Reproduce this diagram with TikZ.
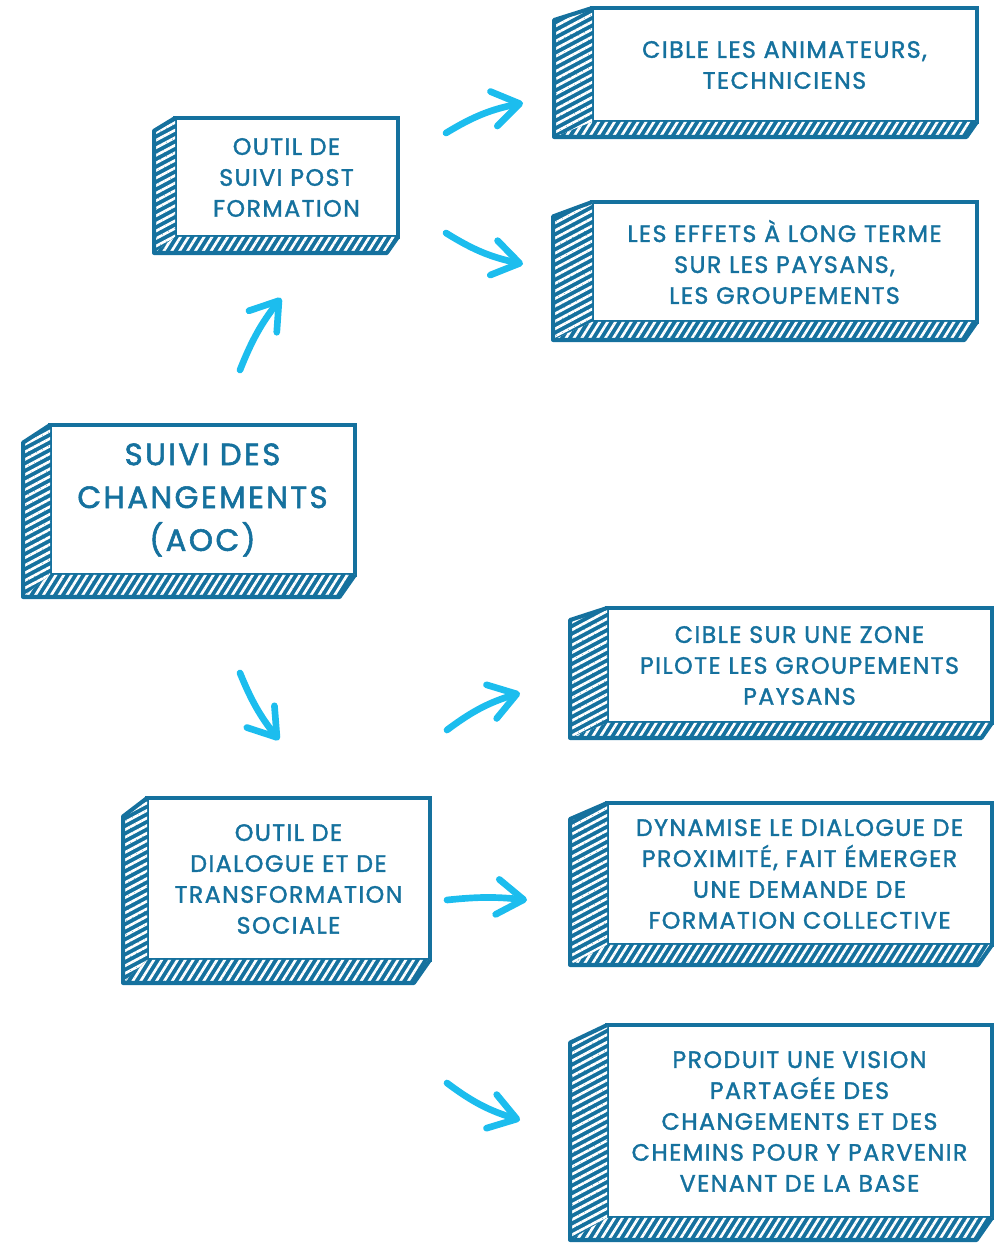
\documentclass[tikz,border=0pt]{standalone}
\usepackage{fontspec}
\setmainfont{Poppins}[LetterSpace=6, FakeBold=1.5]
\newfontfamily\bigfont{Poppins}[LetterSpace=8, FakeBold=1.8]
\usetikzlibrary{calc}
\usetikzlibrary{arrows.meta}
\usetikzlibrary{patterns.meta}
\definecolor{BoxBlue}{HTML}{15719E}
\definecolor{ArrowCyan}{HTML}{1CBDEE}
\tikzset{
  front/.style={draw=BoxBlue, line width=2.3pt, fill=white, text=BoxBlue,
    align=center, inner sep=0pt, outer sep=0pt,
    font=\fontsize{13.5}{17.6}\selectfont},
  sideface/.style={preaction={fill=BoxBlue},
    pattern={Lines[angle=28,distance=3.8pt,line width=1.5pt]}, pattern color=white},
  bottomface/.style={preaction={fill=BoxBlue},
    pattern={Lines[angle=58,distance=3.8pt,line width=1.5pt]}, pattern color=white},
  rim/.style={draw=BoxBlue, line width=2.3pt, line join=round},
  arr/.style={ArrowCyan, line width=3.8pt, line cap=round,
    -{Straight Barb[length=15pt,width=20pt,round]}}
}

\begin{document}
\begin{tikzpicture}[x=0.02cm, y=-0.02cm]
  \useasboundingbox (0,0) rectangle (1003,1244);

  % main box
  \node[front, minimum width=6.10cm, minimum height=3.00cm,
    font=\bigfont\fontsize{17.5}{24.4}\selectfont] (aoc) at (202.5,500)
    {SUIVI DES\\ CHANGEMENTS\\ (AOC)};

  % the two tools
  \node[front, minimum width=4.46cm, minimum height=2.38cm] (postform) at (286.5,177.5)
    {OUTIL DE\\ SUIVI POST\\ FORMATION};
  \node[front, minimum width=5.66cm, minimum height=3.24cm] (dialogue) at (288.5,879)
    {OUTIL DE\\ DIALOGUE ET DE\\ TRANSFORMATION\\ SOCIALE};

  % what they do
  \node[front, minimum width=7.70cm, minimum height=2.28cm] (cible) at (784.5,65)
    {CIBLE LES ANIMATEURS,\\ TECHNICIENS};
  \node[front, minimum width=7.70cm, minimum height=2.40cm] (effets) at (784.5,262)
    {LES EFFETS À LONG TERME\\ SUR LES PAYSANS,\\ LES GROUPEMENTS};
  \node[front, minimum width=7.70cm, minimum height=2.30cm] (zone) at (799.5,665.5)
    {CIBLE SUR UNE ZONE\\ PILOTE LES GROUPEMENTS\\ PAYSANS};
  \node[front, minimum width=7.70cm, minimum height=2.84cm] (dynamise) at (799.5,874)
    {DYNAMISE LE DIALOGUE DE\\ PROXIMITÉ, FAIT ÉMERGER\\ UNE DEMANDE DE\\ FORMATION COLLECTIVE};
  \node[front, minimum width=7.70cm, minimum height=3.86cm] (vision) at (799.5,1121.5)
    {PRODUIT UNE VISION\\ PARTAGÉE DES\\ CHANGEMENTS ET DES\\ CHEMINS POUR Y PARVENIR\\ VENANT DE LA BASE};

  % hatched sides
  \foreach \n/\dx/\dy in {aoc/27/22, postform/21/16, dialogue/24/23, cible/38/15,
    effets/39/18, zone/37/15, dynamise/37/20, vision/37/22}{%
    \fill[sideface] (\n.north west) -- ++(-\dx,0.8*\dy)
      -- ($(\n.south west)+(-\dx,\dy)$) -- (\n.south west) -- cycle;
    \fill[bottomface] (\n.south west) -- ($(\n.south west)+(-\dx,\dy)$)
      -- ($(\n.south east)+(-0.7*\dy,\dy)$) -- (\n.south east) -- cycle;
    \draw[rim] (\n.north west) -- ++(-\dx,0.8*\dy)
      -- ($(\n.south west)+(-\dx,\dy)$) -- ($(\n.south east)+(-0.7*\dy,\dy)$)
      -- (\n.south east);
  }

  % arrows
  \coordinate (up0) at (240,370);   \coordinate (up1) at (281,298);
  \coordinate (dn0) at (240,673);   \coordinate (dn1) at (279,740);
  \coordinate (c0) at (446,133);    \coordinate (c1) at (523,103);
  \coordinate (e0) at (446,233);    \coordinate (e1) at (523,264);
  \coordinate (z0) at (447,730);    \coordinate (z1) at (520,693);
  \coordinate (d0) at (447,900);    \coordinate (d1) at (527,900);
  \coordinate (v0) at (447,1083);   \coordinate (v1) at (520,1120);

  \draw[arr] (up0) to[bend left=8] (up1);
  \draw[arr] (dn0) to[bend right=8] (dn1);
  \draw[arr] (c0) to[bend left=10] (c1);
  \draw[arr] (e0) to[bend right=10] (e1);
  \draw[arr] (z0) to[bend left=10] (z1);
  \draw[arr] (d0) to[bend left=6] (d1);
  \draw[arr] (v0) to[bend right=10] (v1);
\end{tikzpicture}
\end{document}
